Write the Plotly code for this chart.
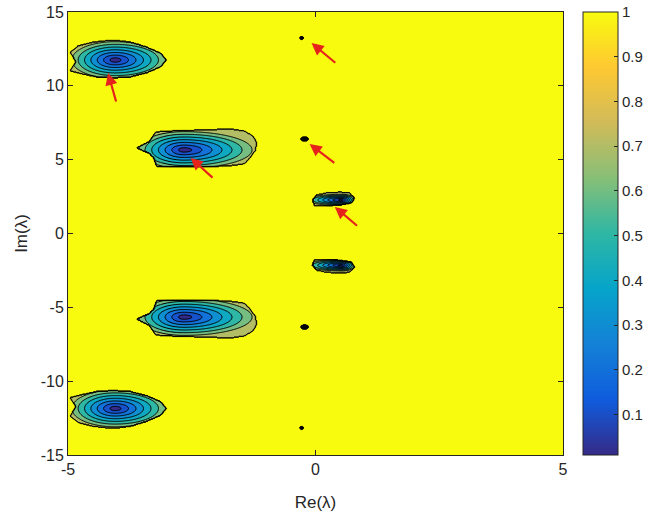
import numpy as np
import plotly.graph_objects as go

# ---------------- data ----------------
# outlines of the three upper wells (Re, Im); lower wells are mirror copies
well1_re = [-4.96, -4.80, -4.49, -4.09, -3.74, -3.42, -3.13, -3.01, -3.13, -3.42, -3.74, -4.09, -4.43, -4.80, -4.96, -4.84]
well1_im = [12.29, 12.70, 12.97, 13.10, 12.97, 12.63, 12.22, 11.75, 11.28, 10.87, 10.60, 10.53, 10.60, 10.87, 11.01, 11.61]
well2_re = [-3.62, -3.37, -3.23, -2.97, -2.36, -1.71, -1.44, -1.26, -1.18, -1.22, -1.34, -1.44, -1.75, -2.36, -2.97, -3.21, -3.27, -3.37]
well2_im = [5.79, 6.20, 6.88, 6.94, 7.01, 7.08, 6.94, 6.60, 6.13, 5.59, 5.05, 4.71, 4.57, 4.51, 4.51, 4.51, 5.12, 5.45]
well3_re = [-0.06, 0.02, 0.22, 0.49, 0.69, 0.79, 0.73, 0.49, 0.22, -0.02]
well3_im = [2.27, 2.61, 2.75, 2.81, 2.75, 2.41, 2.07, 1.93, 1.87, 1.87]

# ring centres / half-widths of each well (upper ones), and centre of lower copy
well_cx = [-4.05, -2.66, 0.53]
well_cy = [11.75, 5.66, 2.27]
well_cy_lower = [-11.85, -5.66, -2.15]
well_half_left = [0.95, 1.00, 0.75]
well_half_right = [1.12, 1.50, 0.30]
well_half_height = [1.35, 1.35, 0.42]
well_min_value = [0.02, 0.02, 0.02]

# small isolated spots near Re = 0
spot_re = [-0.28, -0.22, -0.22, -0.28]
spot_im = [13.24, 6.40, -6.33, -13.17]
spot_w = [0.04, 0.08, 0.08, 0.04]
spot_h = [0.09, 0.14, 0.14, 0.09]

# red arrows: head (Re, Im) and tail (Re, Im)
arrow_head_re = [-4.19, -2.52, -0.08, -0.12, 0.39]
arrow_head_im = [10.87, 5.12, 12.90, 6.06, 1.80]
arrow_tail_re = [-4.02, -2.05, 0.43, 0.41, 0.87]
arrow_tail_im = [8.84, 3.69, 11.48, 4.71, 0.44]

contour_levels = [0.1, 0.9, 0.1]  # start, end, step
colorbar_ticks = [0.1, 0.2, 0.3, 0.4, 0.5, 0.6, 0.7, 0.8, 0.9, 1.0]
colorbar_ticktext = ["0.1", "0.2", "0.3", "0.4", "0.5", "0.6", "0.7", "0.8", "0.9", "1"]

# ---------------- parula-like colour map ----------------
parula_pos = [0.0, 0.125, 0.25, 0.375, 0.5, 0.625, 0.75, 0.875, 1.0]
parula_rgb = [(53, 42, 135), (15, 92, 221), (20, 129, 214), (6, 164, 202), (46, 183, 164),
              (135, 191, 119), (209, 187, 89), (254, 200, 50), (249, 251, 14)]


def parula(t):
    r = np.interp(t, parula_pos, [c[0] for c in parula_rgb])
    g = np.interp(t, parula_pos, [c[1] for c in parula_rgb])
    b = np.interp(t, parula_pos, [c[2] for c in parula_rgb])
    return "rgb(%d,%d,%d)" % (round(r), round(g), round(b))


parula_scale = [[p, "rgb(%d,%d,%d)" % c] for p, c in zip(parula_pos, parula_rgb)]
# band colours like MATLAB contourf: band [L, L+0.1] gets colour of L; top band is yellow
band_scale = []
for k in range(10):
    col = parula(k / 10) if k < 9 else parula(1.0)
    band_scale.append([k / 9, col])

# ---------------- build the field ----------------
xs = np.linspace(-5, 5, 501)
ys = np.linspace(-15, 15, 601)
X, Y = np.meshgrid(xs, ys)
Z = np.ones_like(X)


def in_poly(px, py):
    inside = np.zeros(X.shape, bool)
    n = len(px)
    j = n - 1
    for i in range(n):
        xi, yi, xj, yj = px[i], py[i], px[j], py[j]
        cond = ((yi > Y) != (yj > Y)) & (X < (xj - xi) * (Y - yi) / (yj - yi + 1e-12) + xi)
        inside ^= cond
        j = i
    return inside


outlines = [(well1_re, well1_im), (well2_re, well2_im), (well3_re, well3_im)]
for i, (ox, oy) in enumerate(outlines):
    for cy, ys_out in ((well_cy[i], list(oy)),
                       (well_cy_lower[i], [well_cy_lower[i] - (v - well_cy[i]) for v in oy])):
        mask = in_poly(ox, ys_out)
        a = np.where(X < well_cx[i], well_half_left[i], well_half_right[i])
        r = np.sqrt(((X - well_cx[i]) / a) ** 2 + ((Y - cy) / well_half_height[i]) ** 2)
        v = np.minimum(well_min_value[i] + 0.74 * r, 0.76)
        Z = np.where(mask, np.minimum(Z, v), Z)

for sx, sy, sw, sh in zip(spot_re, spot_im, spot_w, spot_h):
    r = np.sqrt(((X - sx) / sw) ** 2 + ((Y - sy) / sh) ** 2)
    Z = np.where(r < 1, np.minimum(Z, 0.02 + 0.78 * r), Z)

Z = Z.astype(np.float32)

fig = go.Figure()
fig.add_trace(go.Contour(
    x=xs, y=ys, z=Z,
    autocontour=False,
    contours=dict(start=contour_levels[0], end=contour_levels[1], size=contour_levels[2], coloring="fill"),
    colorscale=band_scale,
    line=dict(color="black", width=1.0),
    showscale=False, hoverinfo="skip",
))

# continuous colour bar
fig.add_trace(go.Scatter(
    x=[-10], y=[0], mode="markers", hoverinfo="skip", showlegend=False,
    marker=dict(size=1, color=[0.5], colorscale=parula_scale, cmin=0.01, cmax=1.0, showscale=True,
                colorbar=dict(x=1.0404, xanchor="left", xpad=0, ypad=0, y=0.5, yanchor="middle",
                              len=1.0, lenmode="fraction",
                              thickness=35, thicknessmode="pixels",
                              tickvals=colorbar_ticks, ticktext=colorbar_ticktext,
                              ticks="inside", ticklen=4, tickcolor="#262626",
                              outlinecolor="#262626", outlinewidth=1,
                              tickfont=dict(family="Liberation Sans, Arial", size=15, color="#262626"))),
))

for hx, hy, tx, ty in zip(arrow_head_re, arrow_head_im, arrow_tail_re, arrow_tail_im):
    fig.add_annotation(x=hx, y=hy, ax=tx, ay=ty, xref="x", yref="y", axref="x", ayref="y",
                       text="", showarrow=True, arrowhead=2, arrowsize=1.1, arrowwidth=2.2,
                       arrowcolor="#e5231b", standoff=0)

axis_font = dict(family="Liberation Sans, Arial", size=16, color="#262626")
title_font = dict(family="Liberation Sans, Arial", size=17, color="#262626")
fig.update_layout(
    width=649, height=519,
    margin=dict(l=68, r=86, t=12, b=64, autoexpand=False),
    paper_bgcolor="white", plot_bgcolor="white",
    showlegend=False,
    xaxis=dict(range=[-5, 5], tickvals=[-5, 0, 5], ticktext=["-5", "0", "5"],
               ticks="inside", ticklen=5, tickcolor="#262626",
               showline=True, linecolor="#262626", linewidth=1, mirror="ticks",
               showgrid=False, zeroline=False, tickfont=axis_font,
               title=dict(text="Re(λ)", font=title_font, standoff=18)),
    yaxis=dict(range=[-15, 15], tickvals=[-15, -10, -5, 0, 5, 10, 15],
               ticktext=["-15", "-10", "-5", "0", "5", "10", "15"],
               ticks="inside", ticklen=5, tickcolor="#262626",
               showline=True, linecolor="#262626", linewidth=1, mirror="ticks",
               showgrid=False, zeroline=False, tickfont=axis_font,
               title=dict(text="Im(λ)", font=title_font, standoff=8)),
)

fig.write_html("out.html", config={"displayModeBar": False},
               post_script="document.body.style.margin='0';document.body.style.padding='0';")
